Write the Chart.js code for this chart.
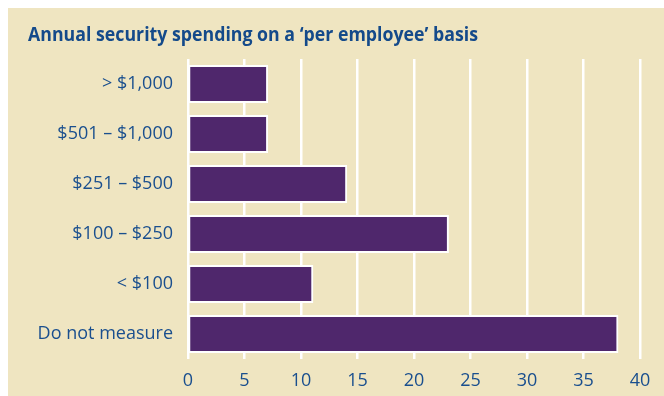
<!DOCTYPE html>
<html>
<head>
<meta charset="utf-8">
<script src="https://cdn.jsdelivr.net/npm/chart.js@4.4.1/dist/chart.umd.min.js"></script>
<style>
  html, body { margin: 0; padding: 0; background: #fff; }
  #wrap { width: 664px; height: 396px; }
</style>
</head>
<body>
<div id="wrap"><canvas id="spendChart" width="664" height="396"></canvas></div>
<script>
const categories = ['> $1,000', '$501 – $1,000', '$251 – $500', '$100 – $250', '< $100', 'Do not measure'];
const respondents = [7, 7, 14, 23, 11, 38];
const xTicks = [0, 5, 10, 15, 20, 25, 30, 35, 40];
const chartTitle = 'Annual security spending on a ‘per employee’ basis';

const BEIGE = '#efe5c1';
const PURPLE = '#4f276c';
const BLUE = '#1a4f8e';

// beige panel behind everything, plus the condensed bold heading
const panel = {
  id: 'panel',
  beforeDraw(chart) {
    const ctx = chart.ctx;
    ctx.save();
    ctx.fillStyle = '#ffffff';
    ctx.fillRect(0, 0, chart.width, chart.height);
    ctx.fillStyle = BEIGE;
    ctx.fillRect(8, 8, chart.width - 8, chart.height - 8);
    ctx.restore();
  },
  afterDraw(chart) {
    const ctx = chart.ctx;
    ctx.save();
    ctx.font = 'bold 19px "Open Sans"';
    ctx.fillStyle = '#144a8a';
    ctx.textBaseline = 'alphabetic';
    const w = ctx.measureText(chartTitle).width;
    ctx.translate(28, 41);
    ctx.scale(450 / w, 1);
    ctx.fillText(chartTitle, 0, 0);
    ctx.restore();
  }
};

new Chart(document.getElementById('spendChart').getContext('2d'), {
  type: 'bar',
  data: {
    labels: categories,
    datasets: [{
      data: respondents,
      backgroundColor: PURPLE,
      borderColor: '#ffffff',
      borderWidth: 2,
      borderSkipped: false,
      inflateAmount: 1,
      barPercentage: 0.72,
      categoryPercentage: 1
    }]
  },
  options: {
    indexAxis: 'y',
    responsive: false,
    animation: false,
    layout: { padding: { top: 59, left: 8, right: 24, bottom: 0 } },
    plugins: {
      legend: { display: false },
      tooltip: { enabled: false }
    },
    scales: {
      x: {
        min: 0,
        max: 40,
        afterFit(scale) { scale.height = 37; },
        afterBuildTicks(scale) { scale.ticks = xTicks.map(v => ({ value: v })); },
        grid: { color: '#ffffff', lineWidth: 2.5, drawTicks: false },
        border: { display: false },
        ticks: {
          color: BLUE,
          padding: 11,
          maxRotation: 0,
          font: { family: 'Open Sans', size: 18 }
        }
      },
      y: {
        afterFit(scale) { scale.width = 180; },
        grid: { display: false, drawTicks: false },
        border: { display: false },
        ticks: {
          color: BLUE,
          padding: 15,
          font: { family: 'Open Sans', size: 18 }
        }
      }
    }
  },
  plugins: [panel]
});
</script>
</body>
</html>
